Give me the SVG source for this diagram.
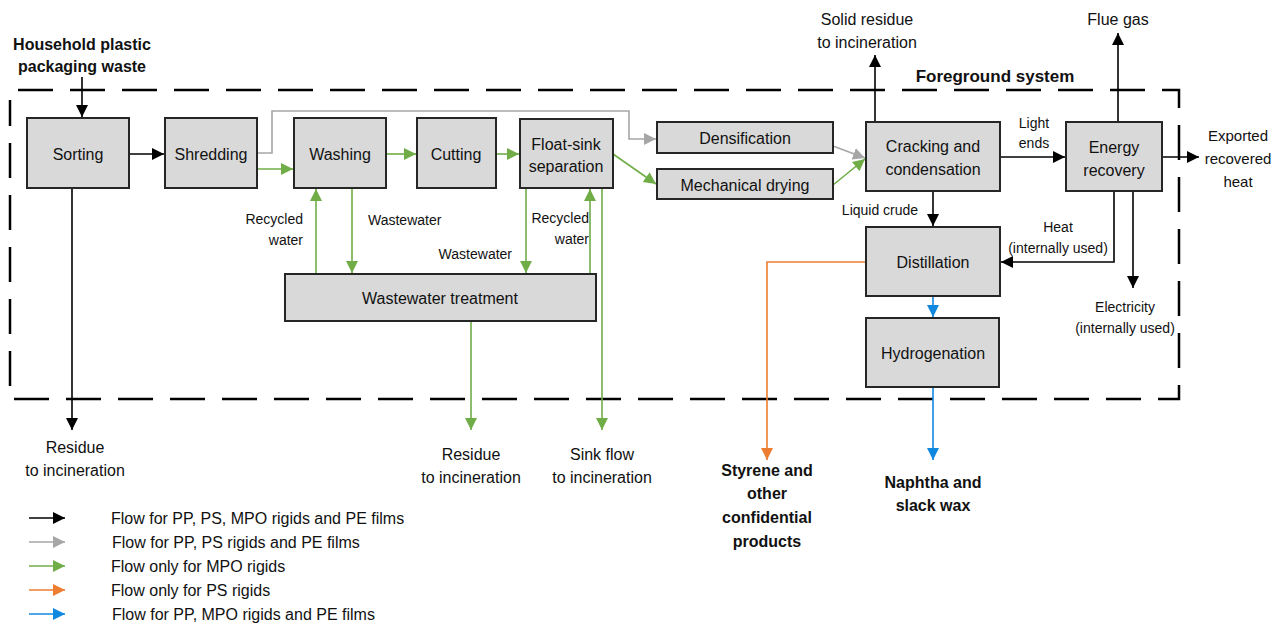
<svg xmlns="http://www.w3.org/2000/svg" width="1274" height="624" viewBox="0 0 1274 624">
<style>
.n{fill:#d9d9d9;stroke:#262626;stroke-width:2}
.t{font-family:"Liberation Sans",Arial,sans-serif;font-size:16px;fill:#111;text-anchor:middle}
.l{font-family:"Liberation Sans",Arial,sans-serif;font-size:14px;fill:#111;text-anchor:middle}
.b{font-family:"Liberation Sans",Arial,sans-serif;font-size:16px;font-weight:bold;fill:#111;text-anchor:middle}
.k{fill:none;stroke:#000;stroke-width:1.6}
.g{fill:none;stroke:#a6a6a6;stroke-width:1.6}
.gr{fill:none;stroke:#70ad47;stroke-width:1.6}
.o{fill:none;stroke:#ed7d31;stroke-width:1.6}
.bl{fill:none;stroke:#1188e0;stroke-width:1.6}
</style>
<defs>
<marker id="ak" markerUnits="userSpaceOnUse" markerWidth="14" markerHeight="14" refX="12" refY="6" orient="auto"><path d="M0,0 L12,6 L0,12 z" fill="#000"/></marker>
<marker id="ag" markerUnits="userSpaceOnUse" markerWidth="14" markerHeight="14" refX="12" refY="6" orient="auto"><path d="M0,0 L12,6 L0,12 z" fill="#a6a6a6"/></marker>
<marker id="agr" markerUnits="userSpaceOnUse" markerWidth="14" markerHeight="14" refX="12" refY="6" orient="auto"><path d="M0,0 L12,6 L0,12 z" fill="#70ad47"/></marker>
<marker id="ao" markerUnits="userSpaceOnUse" markerWidth="14" markerHeight="14" refX="12" refY="6" orient="auto"><path d="M0,0 L12,6 L0,12 z" fill="#ed7d31"/></marker>
<marker id="abl" markerUnits="userSpaceOnUse" markerWidth="14" markerHeight="14" refX="12" refY="6" orient="auto"><path d="M0,0 L12,6 L0,12 z" fill="#1188e0"/></marker>
</defs>
<rect width="1274" height="624" fill="#fff"/>

<!-- foreground system boundary -->
<g id="boundary">
<path d="M18,90 H1179 V399 H10 V100" fill="none" stroke="#000" stroke-width="2.5" stroke-dasharray="35 17"/>
<text class="b" x="995" y="82" style="font-size:17px">Foreground system</text>
</g>

<!-- connectors -->
<g id="connectors">
<path class="k" d="M82,77 V117" marker-end="url(#ak)"/>
<path class="k" d="M129,154 H164" marker-end="url(#ak)"/>
<path class="k" d="M72,188 V430" marker-end="url(#ak)"/>
<path class="g" d="M257,153 H272 V111 H629 V139 H656" marker-end="url(#ag)"/>
<path class="gr" d="M257,169 H293" marker-end="url(#agr)"/>
<path class="gr" d="M386,154 H416" marker-end="url(#agr)"/>
<path class="gr" d="M496,154 H519" marker-end="url(#agr)"/>
<path class="gr" d="M613,154 L656,184" marker-end="url(#agr)"/>
<path class="g" d="M833,146 L865,158" marker-end="url(#ag)"/>
<path class="gr" d="M833,185 L865,159" marker-end="url(#agr)"/>
<path class="gr" d="M352,188 V273" marker-end="url(#agr)"/>
<path class="gr" d="M316,274 V189" marker-end="url(#agr)"/>
<path class="gr" d="M526,188 V273" marker-end="url(#agr)"/>
<path class="gr" d="M590,274 V189" marker-end="url(#agr)"/>
<path class="gr" d="M602,188 V430" marker-end="url(#agr)"/>
<path class="gr" d="M471,321 V430" marker-end="url(#agr)"/>
<path class="k" d="M875,122 V55" marker-end="url(#ak)"/>
<path class="k" d="M1000,157 H1065" marker-end="url(#ak)"/>
<path class="k" d="M1118,122 V33" marker-end="url(#ak)"/>
<path class="k" d="M1162,157 H1199" marker-end="url(#ak)"/>
<path class="k" d="M933,191 V226" marker-end="url(#ak)"/>
<path class="k" d="M1114,191 V262 H1001" marker-end="url(#ak)"/>
<path class="k" d="M1133,191 V288" marker-end="url(#ak)"/>
<path class="bl" d="M933,296 V317" marker-end="url(#abl)"/>
<path class="bl" d="M933,387 V460" marker-end="url(#abl)"/>
<path class="o" d="M866,262 H767 V460" marker-end="url(#ao)"/>
</g>

<!-- nodes -->
<g id="sorting"><rect class="n" x="27" y="118" width="102" height="70"/><text class="t" x="78" y="160">Sorting</text></g>
<g id="shredding"><rect class="n" x="165" y="118" width="92" height="70"/><text class="t" x="211" y="160">Shredding</text></g>
<g id="washing"><rect class="n" x="294" y="118" width="92" height="70"/><text class="t" x="340" y="160">Washing</text></g>
<g id="cutting"><rect class="n" x="417" y="118" width="79" height="70"/><text class="t" x="456" y="160">Cutting</text></g>
<g id="floatsink"><rect class="n" x="520" y="119" width="93" height="69"/><text class="t" x="566" y="150">Float-sink</text><text class="t" x="566" y="172">separation</text></g>
<g id="densification"><rect class="n" x="657" y="122" width="176" height="31"/><text class="t" x="745" y="144">Densification</text></g>
<g id="drying"><rect class="n" x="657" y="169" width="176" height="30"/><text class="t" x="745" y="191">Mechanical drying</text></g>
<g id="cracking"><rect class="n" x="866" y="122" width="134" height="69"/><text class="t" x="933" y="152">Cracking and</text><text class="t" x="933" y="175">condensation</text></g>
<g id="energy"><rect class="n" x="1066" y="122" width="96" height="69"/><text class="t" x="1114" y="153">Energy</text><text class="t" x="1114" y="176">recovery</text></g>
<g id="distillation"><rect class="n" x="866" y="227" width="134" height="69"/><text class="t" x="933" y="268">Distillation</text></g>
<g id="hydrogenation"><rect class="n" x="866" y="318" width="133" height="69"/><text class="t" x="933" y="359">Hydrogenation</text></g>
<g id="wwt"><rect class="n" x="285" y="274" width="311" height="47"/><text class="t" x="440" y="304">Wastewater treatment</text></g>

<!-- external labels -->
<g id="labels">
<text class="b" x="82" y="50">Household plastic</text>
<text class="b" x="82" y="72">packaging waste</text>
<text class="t" x="75" y="453">Residue</text>
<text class="t" x="75" y="476">to incineration</text>
<text class="t" x="471" y="460">Residue</text>
<text class="t" x="471" y="483">to incineration</text>
<text class="t" x="602" y="460">Sink flow</text>
<text class="t" x="602" y="483">to incineration</text>
<text class="t" x="867" y="25">Solid residue</text>
<text class="t" x="867" y="48">to incineration</text>
<text class="t" x="1118" y="25">Flue gas</text>
<text class="t" x="1238" y="141" style="font-size:15px">Exported</text>
<text class="t" x="1238" y="164" style="font-size:15px">recovered</text>
<text class="t" x="1238" y="187" style="font-size:15px">heat</text>
<text class="b" x="767" y="476">Styrene and</text>
<text class="b" x="767" y="499">other</text>
<text class="b" x="767" y="523">confidential</text>
<text class="b" x="767" y="547">products</text>
<text class="b" x="933" y="488">Naphtha and</text>
<text class="b" x="933" y="511">slack wax</text>
<text class="l" x="303" y="224" style="text-anchor:end">Recycled</text>
<text class="l" x="303" y="245" style="text-anchor:end">water</text>
<text class="l" x="368" y="225" style="text-anchor:start">Wastewater</text>
<text class="l" x="512" y="259" style="text-anchor:end">Wastewater</text>
<text class="l" x="589" y="223" style="text-anchor:end">Recycled</text>
<text class="l" x="589" y="244" style="text-anchor:end">water</text>
<text class="l" x="880" y="215">Liquid crude</text>
<text class="l" x="1034" y="128">Light</text>
<text class="l" x="1034" y="148">ends</text>
<text class="l" x="1058" y="232">Heat</text>
<text class="l" x="1058" y="253">(internally used)</text>
<text class="l" x="1125" y="312">Electricity</text>
<text class="l" x="1125" y="333">(internally used)</text>
</g>

<!-- legend -->
<g id="legend">
<path class="k" d="M29,518 H65" marker-end="url(#ak)"/>
<path class="g" d="M29,542 H65" marker-end="url(#ag)"/>
<path class="gr" d="M29,566 H65" marker-end="url(#agr)"/>
<path class="o" d="M29,590 H65" marker-end="url(#ao)"/>
<path class="bl" d="M29,614 H65" marker-end="url(#abl)"/>
<text class="t" x="111" y="524" style="text-anchor:start">Flow for PP, PS, MPO rigids and PE films</text>
<text class="t" x="112" y="548" style="text-anchor:start">Flow for PP, PS rigids and PE films</text>
<text class="t" x="111" y="572" style="text-anchor:start">Flow only for MPO rigids</text>
<text class="t" x="111" y="596" style="text-anchor:start">Flow only for PS rigids</text>
<text class="t" x="112" y="620" style="text-anchor:start">Flow for PP, MPO rigids and PE films</text>
</g>
</svg>
